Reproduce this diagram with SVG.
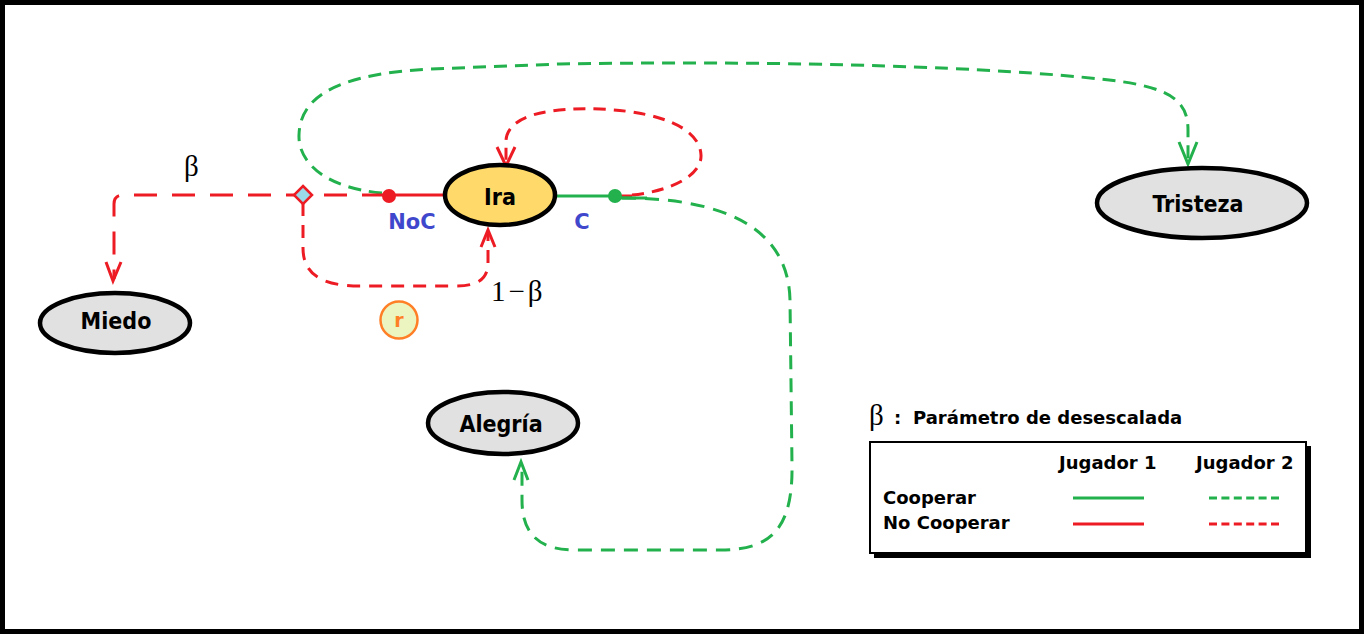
<svg xmlns="http://www.w3.org/2000/svg" width="1364" height="634" viewBox="0 0 1364 634">
<style>
.node{stroke:#000;stroke-width:4.5}
.gray{fill:#E1E1E1}
.lbl{font-family:"DejaVu Sans Condensed","DejaVu Sans",sans-serif;font-weight:bold;font-size:23px;fill:#000;text-anchor:middle}
.blue{font-family:"DejaVu Sans",sans-serif;font-weight:bold;font-size:21px;fill:#3F48CC;text-anchor:middle}
.leg{font-family:"DejaVu Sans",sans-serif;font-weight:bold;font-size:18px;fill:#000}
.greek{font-family:"Liberation Serif","Times New Roman",serif;font-size:29px;fill:#000}
.r{stroke:#ED1C24;stroke-width:3;fill:none}
.g{stroke:#22B14C;stroke-width:3;fill:none}
</style>
<rect x="2.5" y="2.5" width="1359" height="629" fill="#fff" stroke="#000" stroke-width="5"/>
<g id="connectors">
  <path class="g" stroke-dasharray="13 8" d="M382,193 C325,188 298,162 299,135 C300,95 340,74 430,69 L560,64 C800,60 1000,68 1100,79 C1170,86 1188,100 1188,130 V163"/>
  <path class="g" d="M1179,142 L1188,164 L1197,142"/>
  <path class="r" stroke-dasharray="23 15" d="M385,195 H123 Q114,195 114,204 V279"/>
  <path class="r" d="M106,262 L113,281 L121,262"/>
  <path class="r" stroke-dasharray="13 9" d="M303,203 V248 C303,278 328,286 360,286 H455 C480,286 488,278 488,262 V232"/>
  <path class="r" d="M481,247 L488,230 L495,247"/>
  <path class="r" d="M388,195 H445"/>
  <path class="g" d="M556,196 H615"/>
  <path class="r" d="M615,196 H632"/>
  <path class="r" stroke-dasharray="12 8" d="M632,195 C672,191 702,175 701,155 C700,130 665,112 600,109 C550,107 508,115 506,140 V163"/>
  <path class="r" d="M497,147 L506,166 L515,147"/>
  <path class="g" stroke-width="2" d="M615,198 H647"/>
  <path class="g" stroke-dasharray="14 9" d="M622,198 C700,198 788,215 790,300 L792,465 C793,530 770,550 720,550 H575 C535,550 522,530 522,500 V465"/>
  <path class="g" d="M514,480 L521,462 L528,480"/>
</g>
<g id="dot-noc"><circle cx="389" cy="196" r="7" fill="#ED1C24"/></g>
<g id="dot-c"><circle cx="615" cy="196" r="7" fill="#22B14C"/></g>
<g id="diamond"><path d="M303,186 L312,195 L303,204 L294,195 Z" fill="#99D9EA" stroke="#ED1C24" stroke-width="2.5"/></g>
<g id="ira">
  <ellipse class="node" cx="500" cy="195" rx="55" ry="30" fill="#FFDA6A"/>
  <text class="lbl" x="500" y="205">Ira</text>
</g>
<g id="tristeza">
  <ellipse class="node gray" cx="1202" cy="203" rx="105" ry="35"/>
  <text class="lbl" x="1198" y="212">Tristeza</text>
</g>
<g id="miedo">
  <ellipse class="node gray" cx="115" cy="323" rx="75" ry="30"/>
  <text class="lbl" x="116" y="329">Miedo</text>
</g>
<g id="alegria">
  <ellipse class="node gray" cx="503" cy="423" rx="75" ry="31"/>
  <text class="lbl" x="501" y="432">Alegría</text>
</g>
<g id="r-node">
  <circle cx="399" cy="320" r="18.5" fill="#ECF5C0" stroke="#FF7F27" stroke-width="2.5"/>
  <text x="399" y="327" font-family="DejaVu Sans,sans-serif" font-weight="bold" font-size="19" fill="#FF7F27" text-anchor="middle">r</text>
</g>
<text class="blue" x="412" y="229">NoC</text>
<text class="blue" x="582" y="229">C</text>
<text class="greek" x="184" y="176">β</text>
<text class="greek" x="491" y="301" letter-spacing="3">1−β</text>
<g id="legend">
  <text class="greek" x="869" y="425">β</text>
  <text class="leg" x="894" y="424">:</text>
  <text class="leg" x="913" y="424">Parámetro de desescalada</text>
  <rect x="874" y="446" width="437" height="112" fill="#000"/>
  <rect x="870" y="442" width="436" height="111" fill="#fff" stroke="#000" stroke-width="2"/>
  <text class="leg" x="1059" y="469">Jugador 1</text>
  <text class="leg" x="1196" y="469">Jugador 2</text>
  <text class="leg" x="883" y="504">Cooperar</text>
  <text class="leg" x="883" y="529">No Cooperar</text>
  <path class="g" d="M1073,498 H1144"/>
  <path class="g" stroke-dasharray="8 4.4" d="M1209,498 H1279"/>
  <path class="r" d="M1073,524 H1144"/>
  <path class="r" stroke-dasharray="8 4.4" d="M1209,524 H1279"/>
</g>
</svg>
